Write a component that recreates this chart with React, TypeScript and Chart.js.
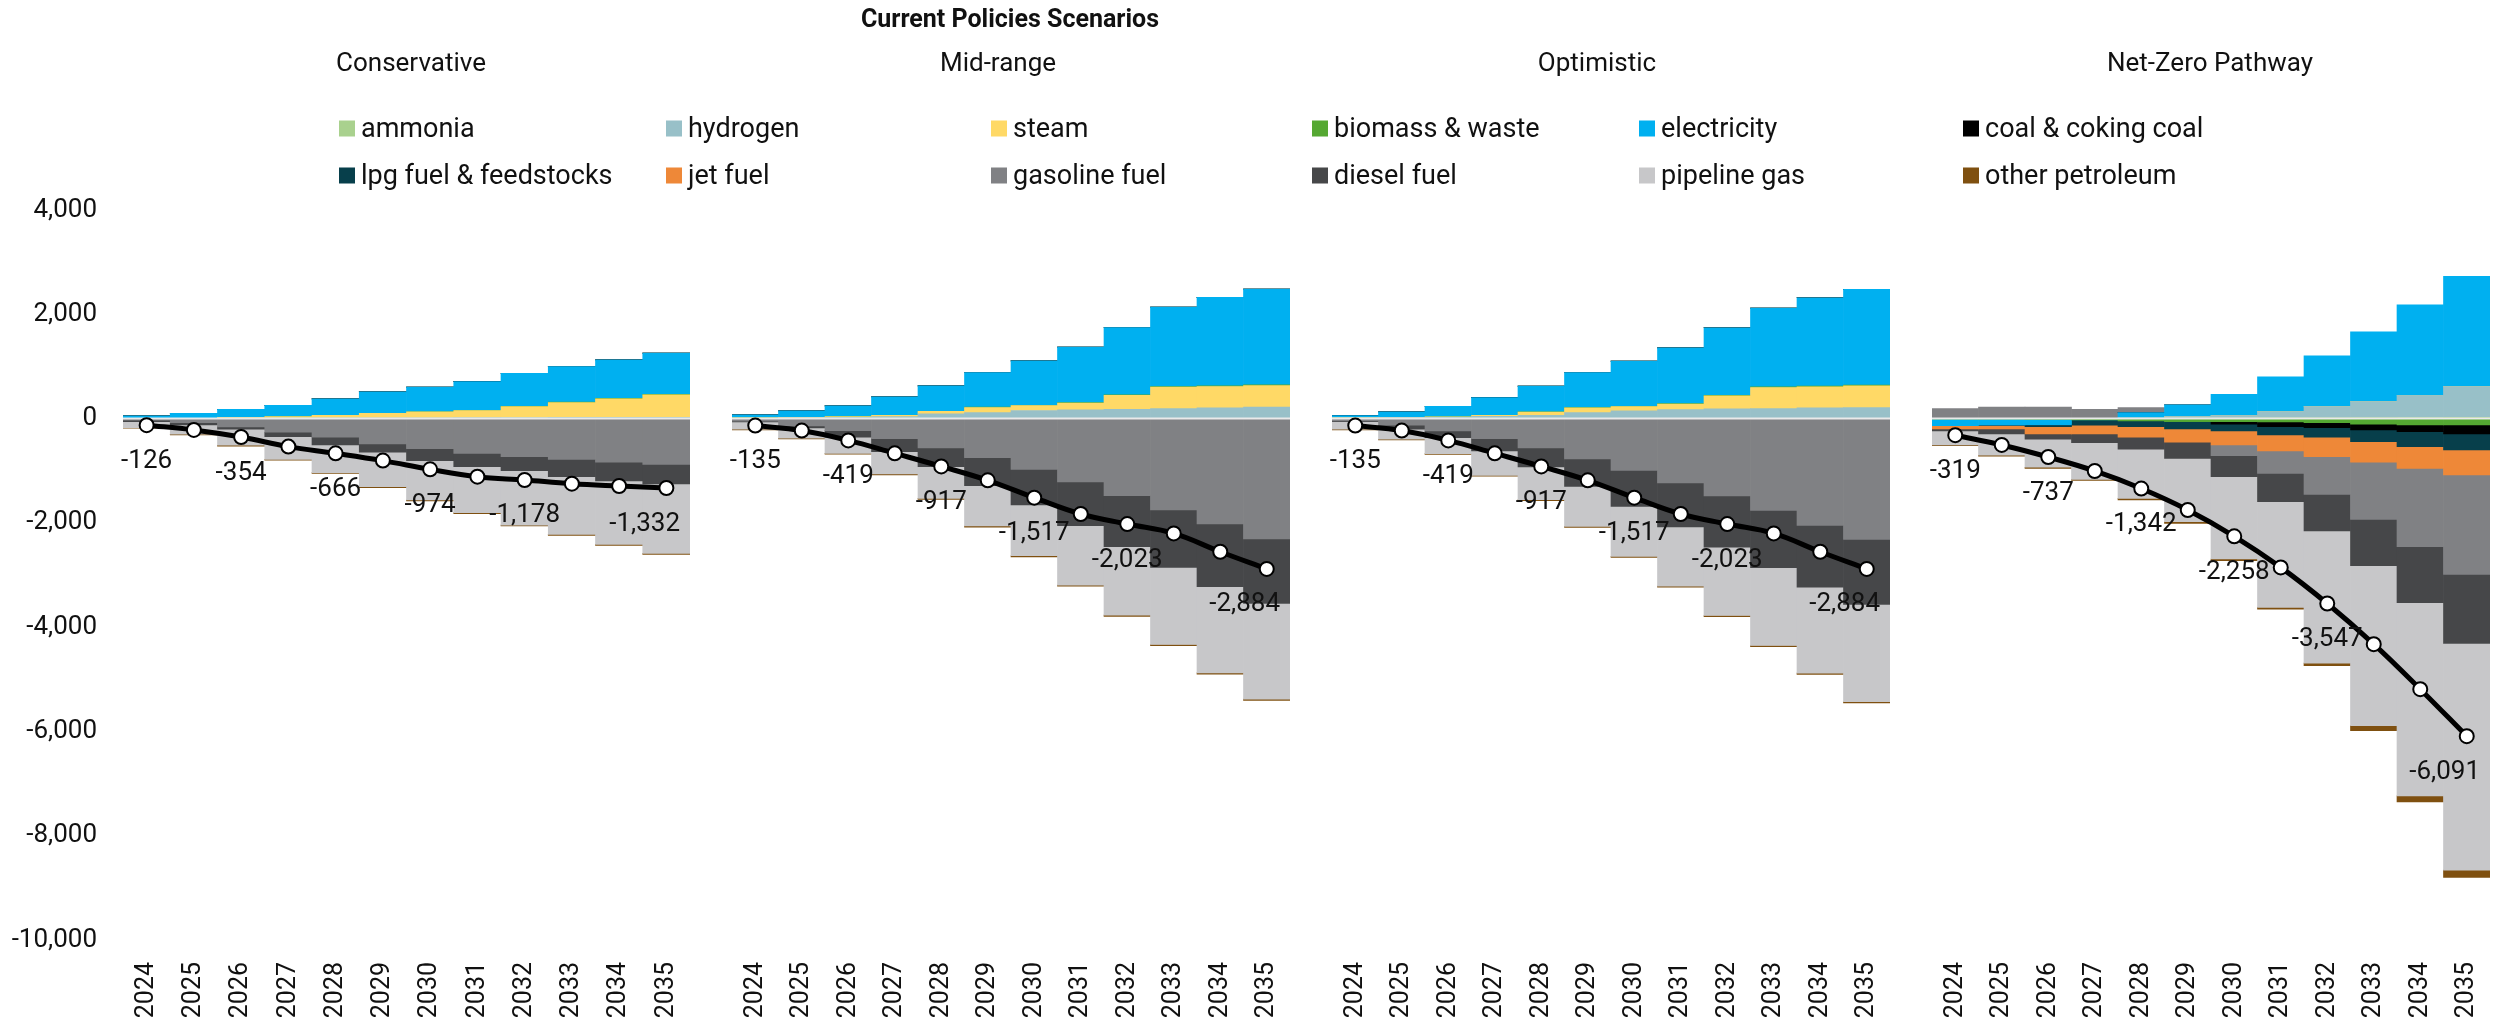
import React, { useEffect, useRef } from 'react';
import { Chart, registerables } from 'chart.js';

Chart.register(...registerables);

// ---------- categories / labels ----------
const years = ['2024', '2025', '2026', '2027', '2028', '2029', '2030', '2031', '2032', '2033', '2034', '2035'];
const chartTitle = 'Current Policies Scenarios';
const scenarioNames = ['Conservative', 'Mid-range', 'Optimistic', 'Net-Zero Pathway'];
const seriesNames = [
  'ammonia', 'hydrogen', 'steam', 'biomass & waste', 'electricity', 'coal & coking coal',
  'lpg fuel & feedstocks', 'jet fuel', 'gasoline fuel', 'diesel fuel', 'pipeline gas', 'other petroleum',
];
const seriesColors = [
  '#a9d18e', '#98c0c8', '#ffd966', '#55a832', '#00b0f0', '#000000',
  '#073f4b', '#ee8838', '#808184', '#464749', '#c7c7c9', '#7f5010',
];
const yTicks = [-10000, -8000, -6000, -4000, -2000, 0, 2000, 4000];
const netLabelIndices = [0, 2, 4, 6, 8, 11];

// ---------- Conservative ----------
const consAmmonia = [0, 0, 0, 0, 0, 0, 0, 0, 0, 0, 0, 0];
const consHydrogen = [4, 6, 8, 10, 12, 14, 16, 18, 20, 22, 24, 26];
const consSteam = [0, 0, 17, 28, 52, 88, 112, 136, 210, 285, 354, 428];
const consBiomass = [0, 0, 0, 0, 0, 0, 2, 5, 6, 8, 8, 10];
const consElectricity = [47, 96, 154, 218, 314, 410, 472, 551, 634, 683, 740, 790];
const consCoal = [0, 0, 0, 0, 0, 0, 0, 0, 0, 0, 0, 0];
const consLpg = [0, 0, 0, 0, 0, 0, 0, 0, 0, 0, 0, 0];
const consJet = [0, 0, 0, 0, 0, 0, 0, 0, 0, 0, 0, 0];
const consGasoline = [-30, -77, -160, -262, -358, -486, -576, -666, -730, -781, -838, -877];
const consDiesel = [-28, -45, -45, -84, -148, -160, -230, -256, -268, -333, -359, -377];
const consPipeline = [-115, -179, -307, -435, -531, -660, -756, -883, -1044, -1107, -1216, -1332];
const consOther = [-12, -14, -15, -16, -17, -18, -18, -19, -19, -20, -20, -20];
const consNet = [-126, -218, -354, -538, -666, -806, -974, -1114, -1178, -1248, -1293, -1332];

// ---------- Mid-range ----------
const midAmmonia = [0, 0, 0, 0, 0, 0, 0, 0, 0, 0, 0, 0];
const midHydrogen = [6, 13, 26, 38, 90, 115, 154, 166, 179, 192, 205, 218];
const midSteam = [7, 13, 12, 26, 48, 98, 96, 133, 265, 410, 410, 414];
const midBiomass = [0, 0, 0, 0, 3, 5, 6, 8, 10, 12, 12, 14];
const midElectricity = [57, 121, 205, 352, 486, 665, 851, 1063, 1293, 1524, 1696, 1837];
const midCoal = [0, 0, 0, 0, 0, 0, 0, 0, 0, 0, 0, 0];
const midLpg = [0, 0, 0, 0, 0, 0, 0, 0, 0, 0, 0, 0];
const midJet = [0, 0, 0, 0, 0, 0, 0, 0, 0, 0, 0, 0];
const midGasoline = [-51, -141, -230, -384, -563, -749, -973, -1216, -1478, -1754, -2022, -2310];
const midDiesel = [-13, -38, -128, -250, -359, -537, -685, -838, -980, -1100, -1204, -1236];
const midPipeline = [-141, -199, -308, -428, -608, -775, -972, -1140, -1312, -1479, -1651, -1836];
const midOther = [-12, -14, -16, -18, -20, -20, -22, -22, -24, -24, -25, -25];
const midNet = [-135, -230, -419, -666, -917, -1184, -1517, -1830, -2023, -2202, -2554, -2884];

// ---------- Optimistic ----------
const optAmmonia = [0, 0, 0, 0, 0, 0, 0, 0, 0, 0, 0, 0];
const optHydrogen = [13, 19, 26, 45, 64, 115, 147, 173, 186, 192, 205, 211];
const optSteam = [6, 7, 6, 17, 61, 91, 84, 107, 252, 404, 404, 415];
const optBiomass = [0, 0, 0, 2, 3, 5, 6, 8, 10, 12, 12, 14];
const optElectricity = [39, 102, 205, 339, 493, 672, 864, 1069, 1293, 1510, 1696, 1837];
const optCoal = [0, 0, 0, 0, 0, 0, 0, 0, 0, 0, 0, 0];
const optLpg = [0, 0, 0, 0, 0, 0, 0, 0, 0, 0, 0, 0];
const optJet = [0, 0, 0, 0, 0, 0, 0, 0, 0, 0, 0, 0];
const optGasoline = [-45, -128, -237, -384, -563, -774, -992, -1235, -1485, -1760, -2048, -2317];
const optDiesel = [-13, -77, -128, -237, -365, -525, -691, -845, -979, -1101, -1184, -1248];
const optPipeline = [-147, -192, -307, -467, -627, -768, -960, -1133, -1312, -1491, -1651, -1865];
const optOther = [-12, -14, -16, -18, -20, -20, -22, -22, -24, -24, -25, -25];
const optNet = [-135, -230, -419, -666, -917, -1184, -1517, -1830, -2023, -2202, -2554, -2884];

// ---------- Net-Zero Pathway ----------
const nzAmmonia = [0, 0, 0, 0, 5, 8, 10, 12, 15, 18, 20, 22];
const nzHydrogen = [0, 0, 0, 0, 5, 30, 48, 122, 215, 308, 422, 592];
const nzSteam = [0, 0, 0, 0, 0, 0, 0, 0, 0, 0, 0, 0];
const nzBiomass = [-10, -12, -15, -25, -45, -58, -58, -64, -77, -109, -122, -122];
const nzElectricity = [-124, -116, -107, 0, 105, 224, 409, 666, 973, 1338, 1740, 2112];
const nzCoal = [0, 0, 0, 0, 0, 0, -51, -90, -96, -109, -128, -172];
const nzLpg = [0, 0, -32, -103, -109, -140, -128, -160, -185, -224, -288, -308];
const nzJet = [-64, -70, -140, -166, -204, -256, -269, -307, -372, -396, -416, -480];
const nzGasoline = [192, 218, 218, 179, 96, 0, -204, -429, -723, -1095, -1504, -1907];
const nzDiesel = [-39, -96, -103, -167, -231, -308, -404, -544, -704, -889, -1075, -1325];
const nzPipeline = [-269, -410, -537, -704, -941, -1216, -1580, -2028, -2533, -3068, -3702, -4346];
const nzOther = [-12, -16, -20, -19, -32, -32, -32, -32, -50, -95, -115, -140];
const nzNet = [-319, -506, -737, -1005, -1342, -1754, -2258, -2854, -3547, -4326, -5190, -6091];

const scenarioSeries = [
  [consAmmonia, consHydrogen, consSteam, consBiomass, consElectricity, consCoal, consLpg, consJet, consGasoline, consDiesel, consPipeline, consOther],
  [midAmmonia, midHydrogen, midSteam, midBiomass, midElectricity, midCoal, midLpg, midJet, midGasoline, midDiesel, midPipeline, midOther],
  [optAmmonia, optHydrogen, optSteam, optBiomass, optElectricity, optCoal, optLpg, optJet, optGasoline, optDiesel, optPipeline, optOther],
  [nzAmmonia, nzHydrogen, nzSteam, nzBiomass, nzElectricity, nzCoal, nzLpg, nzJet, nzGasoline, nzDiesel, nzPipeline, nzOther],
];
const scenarioNet = [consNet, midNet, optNet, nzNet];

// ---------- layout ----------
const FONT = 'Roboto, "Noto Sans", "DejaVu Sans", sans-serif';
const W = 2496;
const H = 1023;
const AXIS_W = 123;
const PANEL_W = 576;
const panelLefts = [0, 723, 1323, 1923];
const subtitleX = [411, 998, 1597, 2210];
const legendColX = [339, 666, 991, 1312, 1639, 1963];
const legendRowY = [128, 175];

const fmt = (v: number) => v.toLocaleString('en-US');

const netLabelPlugin = {
  id: 'netLabels',
  beforeDatasetDraw(chart: any, args: any) {
    if (args.meta.type !== 'line') return;
    const { ctx, chartArea } = chart;
    const y0 = chart.scales.y.getPixelForValue(0);
    ctx.save();
    ctx.strokeStyle = '#e9e9e9';
    ctx.lineWidth = 2;
    ctx.beginPath();
    ctx.moveTo(chartArea.left, y0);
    ctx.lineTo(chartArea.right, y0);
    ctx.stroke();
    ctx.restore();
  },
  afterDatasetsDraw(chart: any) {
    const { ctx, chartArea } = chart;
    const idx = chart.data.datasets.findIndex((d: any) => d.type === 'line');
    const meta = chart.getDatasetMeta(idx);
    const values = chart.data.datasets[idx].data as number[];
    ctx.save();
    ctx.font = `26px ${FONT}`;
    ctx.fillStyle = '#111';
    ctx.textAlign = 'center';
    ctx.textBaseline = 'middle';
    netLabelIndices.forEach((i) => {
      const pt = meta.data[i];
      if (!pt) return;
      const text = fmt(values[i]);
      const w = ctx.measureText(text).width;
      let x = pt.x;
      const maxRight = chartArea.right - 10;
      if (x + w / 2 > maxRight) x = maxRight - w / 2;
      ctx.fillText(text, x, pt.y + 36);
    });
    ctx.restore();
  },
};

function Panel({ index }: { index: number }) {
  const ref = useRef<HTMLCanvasElement>(null);
  const showY = index === 0;
  const width = showY ? AXIS_W + PANEL_W : PANEL_W;
  useEffect(() => {
    const series = scenarioSeries[index];
    const datasets: any[] = series.map((vals, i) => ({
      type: 'bar',
      label: seriesNames[i],
      data: vals,
      backgroundColor: seriesColors[i],
      borderWidth: 0,
      categoryPercentage: 1,
      barPercentage: 1,
      stack: 'energy',
      order: 1,
    }));
    datasets.push({
      type: 'line',
      label: 'net',
      data: scenarioNet[index],
      borderColor: '#000',
      borderWidth: 5,
      pointRadius: 7,
      pointBackgroundColor: '#fff',
      pointBorderColor: '#000',
      pointBorderWidth: 2,
      tension: 0.4,
      stack: 'net',
      order: 0,
      clip: false,
    });
    const chart = new Chart(ref.current as HTMLCanvasElement, {
      type: 'bar',
      data: { labels: years, datasets },
      options: {
        animation: false,
        responsive: false,
        maintainAspectRatio: false,
        devicePixelRatio: 1,
        layout: { padding: { top: 210, left: 0, right: 0, bottom: 0 } },
        plugins: { legend: { display: false }, tooltip: { enabled: false }, title: { display: false } },
        scales: {
          x: {
            type: 'category',
            stacked: true,
            grid: { display: false, drawTicks: false },
            border: { display: false },
            ticks: {
              minRotation: 90,
              maxRotation: 90,
              autoSkip: false,
              padding: 22,
              color: '#111',
              font: { family: FONT, size: 25 },
            },
            afterFit: (s: any) => {
              s.height = 83;
              s.paddingLeft = 0;
              s.paddingRight = 0;
            },
          },
          y: {
            type: 'linear',
            display: showY,
            stacked: true,
            min: yTicks[0],
            max: yTicks[yTicks.length - 1],
            grid: { display: false, drawTicks: false },
            border: { display: false },
            afterBuildTicks: (s: any) => {
              s.ticks = yTicks.map((v) => ({ value: v }));
            },
            ticks: {
              padding: 26,
              color: '#111',
              font: { family: FONT, size: 26 },
              callback: (v: any) => fmt(Number(v)),
            },
            afterFit: (s: any) => {
              s.width = showY ? AXIS_W : 0;
              s.paddingTop = 0;
              s.paddingBottom = 0;
            },
          },
        },
      },
      plugins: [netLabelPlugin],
    } as any);
    return () => chart.destroy();
  }, [index]);
  return (
    <canvas
      ref={ref}
      width={width}
      height={H}
      style={{ position: 'absolute', left: panelLefts[index], top: 0, width, height: H }}
    />
  );
}

export default function App() {
  return (
    <div
      style={{
        position: 'fixed',
        left: 0,
        top: 0,
        width: W,
        height: H,
        overflow: 'hidden',
        background: '#fff',
        fontFamily: FONT,
        color: '#111',
      }}
    >
      {[0, 1, 2, 3].map((i) => (
        <Panel key={i} index={i} />
      ))}
      <div
        style={{
          position: 'absolute',
          left: 1010,
          top: 18,
          transform: 'translate(-50%, -50%)',
          fontWeight: 700,
          fontSize: 25,
          lineHeight: 1,
          whiteSpace: 'nowrap',
        }}
      >
        {chartTitle}
      </div>
      {scenarioNames.map((name, i) => (
        <div
          key={name}
          style={{
            position: 'absolute',
            left: subtitleX[i],
            top: 62,
            transform: 'translate(-50%, -50%)',
            fontSize: 26,
            lineHeight: 1,
            whiteSpace: 'nowrap',
          }}
        >
          {name}
        </div>
      ))}
      {seriesNames.map((name, i) => (
        <div
          key={name}
          style={{
            position: 'absolute',
            left: legendColX[i % 6],
            top: legendRowY[Math.floor(i / 6)],
            transform: 'translateY(-50%)',
            display: 'flex',
            alignItems: 'center',
            fontSize: 27,
            lineHeight: 1,
            whiteSpace: 'nowrap',
          }}
        >
          <span style={{ display: 'inline-block', width: 16, height: 16, background: seriesColors[i], marginRight: 6 }} />
          <span>{name}</span>
        </div>
      ))}
    </div>
  );
}
